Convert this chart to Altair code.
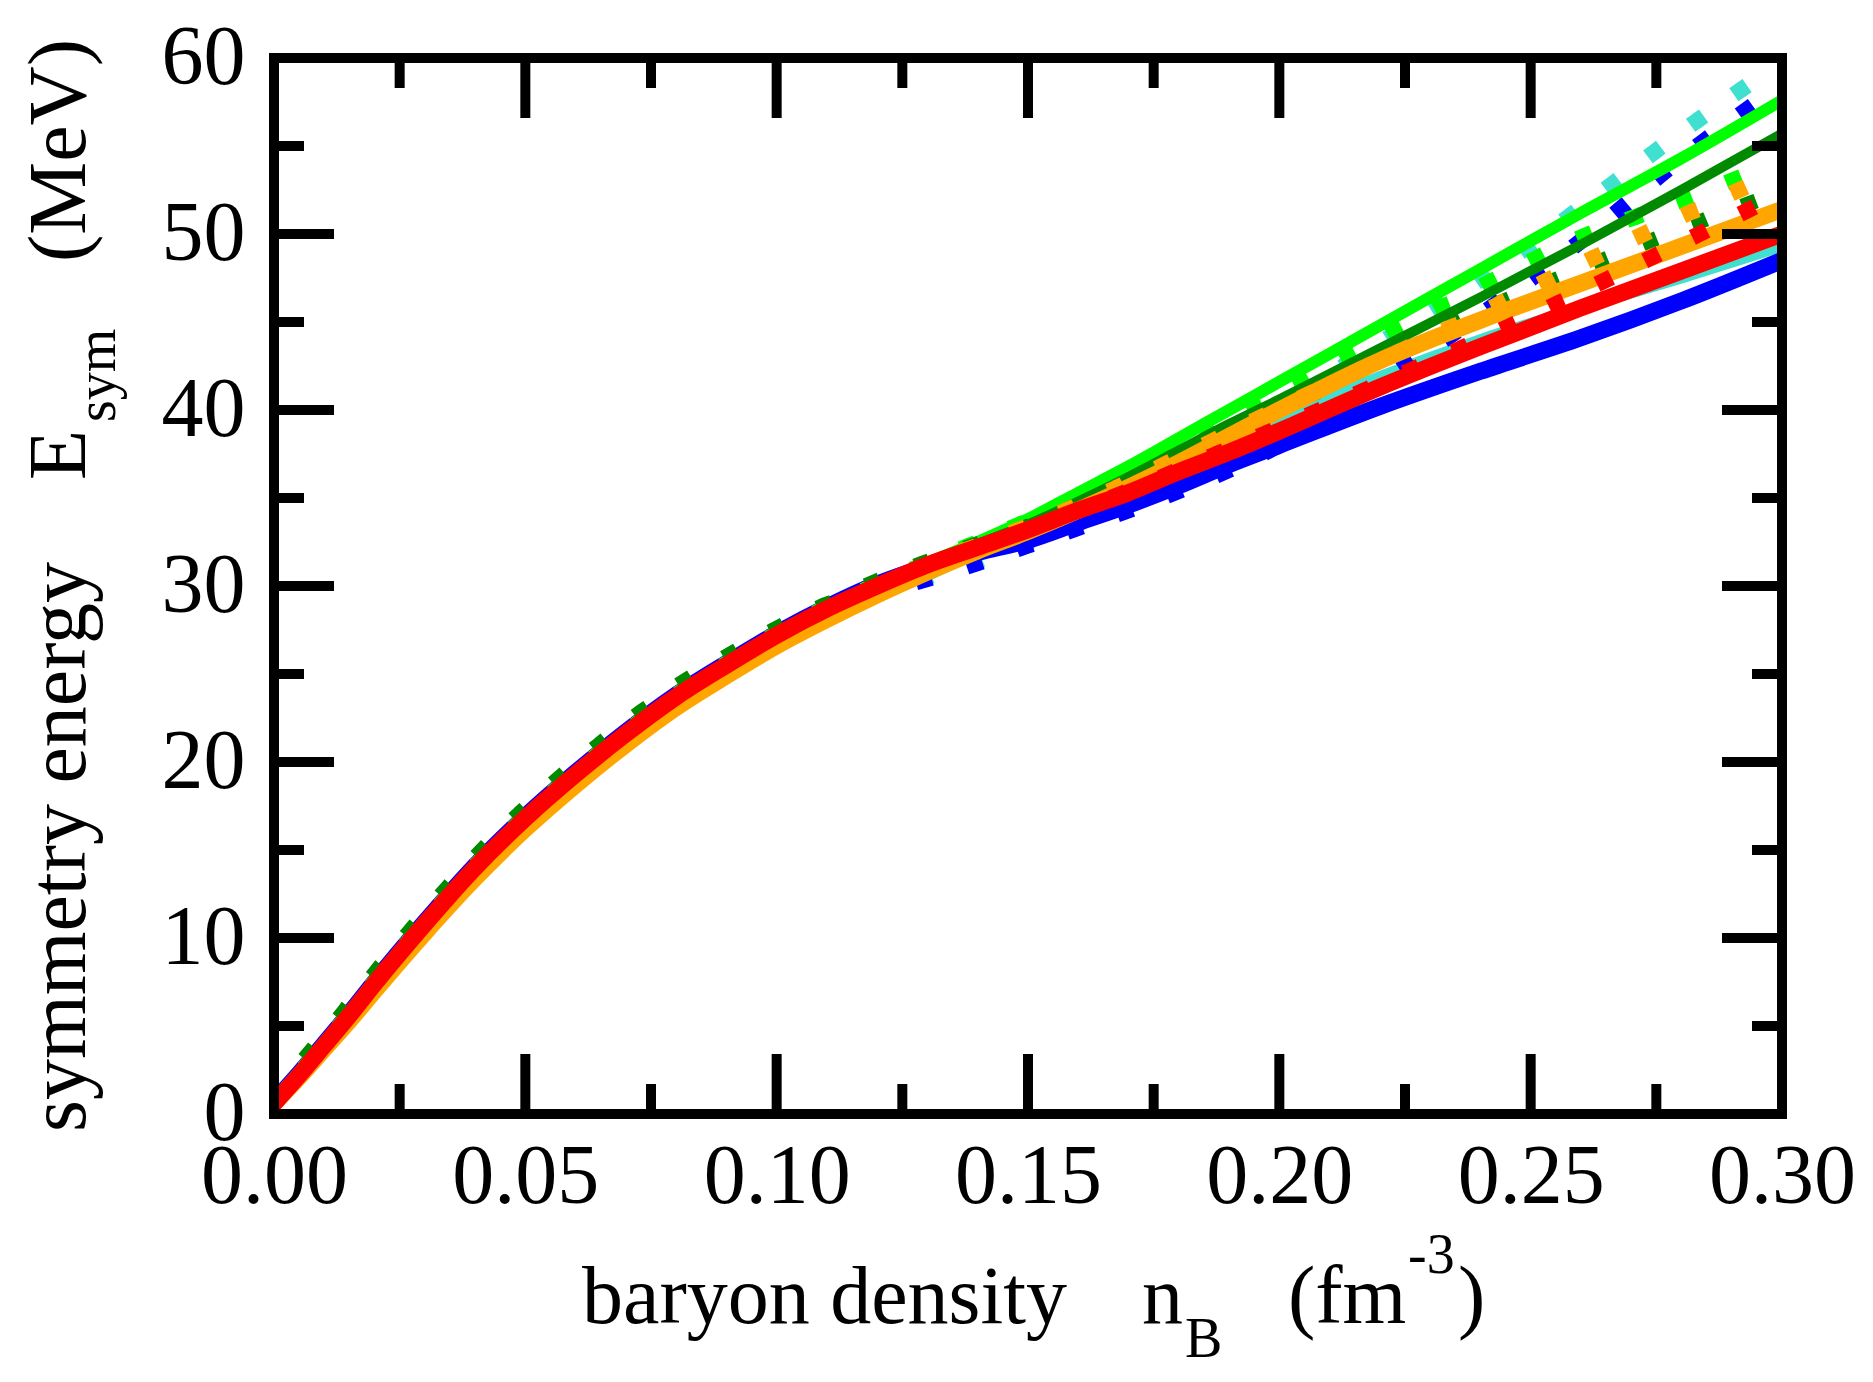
import altair as alt
import pandas as pd

# ---------------- data ----------------
n_B = [0.0, 0.005, 0.01, 0.015, 0.02, 0.03, 0.04, 0.05, 0.06, 0.07, 0.08, 0.09, 0.10, 0.11, 0.12,
       0.13, 0.14, 0.15, 0.16, 0.17, 0.18, 0.19, 0.20, 0.22, 0.24, 0.26, 0.28, 0.30]

turq_solid = [0.6, 2.1, 3.8, 5.4, 7.2, 10.6, 13.8, 16.6, 19.1, 21.4, 23.5, 25.3, 26.9, 28.2, 29.4,
              30.6, 31.9, 33.2, 34.4, 35.7, 37.0, 38.2, 39.5, 41.9, 44.0, 45.8, 47.5, 49.3]
turq_dot = [0.6, 2.1, 3.8, 5.5, 7.3, 10.7, 13.9, 16.7, 19.2, 21.5, 23.6, 25.4, 27.0, 28.4, 29.5,
            30.5, 31.4, 32.5, 33.6, 35.0, 36.6, 38.4, 40.2, 43.8, 47.4, 51.5, 55.8, 59.8]
blue_solid = [0.7, 2.3, 4.0, 5.7, 7.5, 10.9, 14.1, 16.9, 19.4, 21.7, 23.8, 25.6, 27.3, 28.8, 30.1,
              31.1, 31.9, 32.6, 33.6, 34.6, 35.7, 36.9, 38.0, 40.2, 42.2, 44.1, 46.2, 48.5]
blue_dot = [0.6, 2.2, 3.9, 5.6, 7.4, 10.8, 14.0, 16.8, 19.3, 21.6, 23.7, 25.5, 27.2, 28.6, 29.6,
            30.4, 31.3, 32.3, 33.3, 34.3, 35.4, 36.6, 38.0, 41.6, 45.4, 49.6, 54.3, 58.5]
lime_solid = [0.8, 2.4, 4.1, 5.8, 7.6, 11.0, 14.1, 16.9, 19.4, 21.7, 23.8, 25.6, 27.3, 28.8, 30.1,
              31.3, 32.5, 33.8, 35.3, 36.8, 38.4, 40.0, 41.6, 44.8, 48.0, 51.2, 54.3, 57.6]
lime_dot = [0.7, 2.3, 4.0, 5.7, 7.5, 10.9, 14.1, 16.9, 19.4, 21.7, 23.8, 25.6, 27.3, 28.8, 30.1,
            31.3, 32.5, 33.7, 35.0, 36.4, 37.9, 39.4, 40.9, 44.0, 47.0, 49.8, 51.9, 54.2]
dgreen_solid = [0.7, 2.3, 4.0, 5.7, 7.5, 10.9, 14.1, 16.9, 19.4, 21.7, 23.8, 25.6, 27.3, 28.8, 30.1,
                31.3, 32.4, 33.5, 34.8, 36.2, 37.7, 39.2, 40.6, 43.5, 46.4, 49.4, 52.5, 55.7]
dgreen_dot = [1.2, 2.8, 4.5, 6.2, 8.0, 11.4, 14.6, 17.4, 19.9, 22.2, 24.3, 26.0, 27.6, 29.0, 30.3,
              31.4, 32.4, 33.4, 34.5, 35.8, 37.2, 38.6, 40.0, 42.8, 45.6, 48.0, 50.3, 52.4]
orange_solid = [0.6, 2.1, 3.7, 5.3, 7.0, 10.3, 13.4, 16.2, 18.7, 21.0, 23.1, 24.9, 26.6, 28.1, 29.5,
                30.8, 32.0, 33.1, 34.3, 35.6, 37.0, 38.5, 40.0, 42.8, 45.1, 47.2, 49.3, 51.4]
orange_dot = [0.6, 2.2, 3.9, 5.6, 7.4, 10.8, 14.0, 16.8, 19.3, 21.6, 23.7, 25.5, 27.2, 28.7, 30.0,
              31.2, 32.3, 33.4, 34.6, 35.9, 37.3, 38.7, 40.1, 42.8, 45.5, 48.3, 51.0, 53.6]
red_solid = [0.6, 2.2, 3.9, 5.6, 7.4, 10.8, 14.0, 16.8, 19.3, 21.6, 23.7, 25.5, 27.2, 28.7, 30.0,
             31.2, 32.2, 33.2, 34.3, 35.3, 36.5, 37.6, 38.8, 41.3, 43.6, 45.8, 47.9, 50.0]
red_dot = [0.6, 2.2, 3.9, 5.6, 7.4, 10.8, 14.0, 16.8, 19.3, 21.6, 23.7, 25.5, 27.2, 28.7, 30.0,
           31.2, 32.2, 33.2, 34.3, 35.4, 36.6, 37.8, 39.0, 41.5, 44.0, 46.7, 49.5, 52.3]

x_major = [0.0, 0.05, 0.10, 0.15, 0.20, 0.25, 0.30]
x_minor = [0.025, 0.075, 0.125, 0.175, 0.225, 0.275]
y_major = [0, 10, 20, 30, 40, 50, 60]
y_minor = [5, 15, 25, 35, 45, 55]

# ---------------- layout ----------------
W, H = 1508, 1056
FONT = "Liberation Serif"
MAJ, MIN = 60, 30

xs = alt.Scale(domain=[0, 0.3], nice=False, zero=False)
ys = alt.Scale(domain=[0, 60], nice=False, zero=False)

xaxis = alt.Axis(values=x_major, format=".2f", title=None, grid=False, domain=False,
                 ticks=False, tickSize=0, labelFont=FONT, labelFontSize=84,
                 labelColor="black", labelPadding=22, labelFlush=False, labelOverlap=False)
yaxis = alt.Axis(values=y_major, format="d", title=None, grid=False, domain=False,
                 ticks=False, tickSize=0, labelFont=FONT, labelFontSize=84,
                 labelColor="black", labelPadding=29, labelFlush=False, labelOverlap=False)

def curve(vals, color, width, dotted=False):
    df = pd.DataFrame({"n": n_B, "E": vals})
    if dotted:
        mk = alt.Chart(df).mark_line(color=color, strokeWidth=width, strokeDash=[0.1, 53],
                                     strokeCap="square", interpolate="monotone", clip=True)
    else:
        mk = alt.Chart(df).mark_line(color=color, strokeWidth=width,
                                     interpolate="monotone", clip=True)
    return mk.encode(x=alt.X("n:Q", scale=xs, axis=xaxis),
                     y=alt.Y("E:Q", scale=ys, axis=yaxis))

TURQ, BLUE, LIME, DGREEN, ORANGE, RED = "#40e0d0", "#0000ff", "#00ff00", "#008a00", "#ffa500", "#ff0000"

lines = [
    curve(turq_solid, TURQ, 11),
    curve(turq_dot, TURQ, 16, True),
    curve(blue_solid, BLUE, 17),
    curve(blue_dot, BLUE, 16, True),
    curve(lime_solid, LIME, 12),
    curve(lime_dot, LIME, 16, True),
    curve(dgreen_solid, DGREEN, 10),
    curve(dgreen_dot, DGREEN, 15, True),
    curve(orange_solid, ORANGE, 17),
    curve(orange_dot, ORANGE, 16, True),
    curve(red_solid, RED, 17),
    curve(red_dot, RED, 16, True),
]

def xticks(vals, length):
    df = pd.DataFrame({"v": vals})
    base = alt.Chart(df).mark_rule(color="black", strokeWidth=10, strokeCap="butt")
    top = base.encode(x=alt.X("v:Q", scale=xs, axis=xaxis), y=alt.value(0), y2=alt.value(length))
    bot = base.encode(x=alt.X("v:Q", scale=xs, axis=xaxis), y=alt.value(H - length), y2=alt.value(H))
    return [top, bot]

def yticks(vals, length):
    df = pd.DataFrame({"v": vals})
    base = alt.Chart(df).mark_rule(color="black", strokeWidth=10, strokeCap="butt")
    left = base.encode(y=alt.Y("v:Q", scale=ys, axis=yaxis), x=alt.value(0), x2=alt.value(length))
    right = base.encode(y=alt.Y("v:Q", scale=ys, axis=yaxis), x=alt.value(W - length), x2=alt.value(W))
    return [left, right]

ticks = xticks(x_major, MAJ) + xticks(x_minor, MIN) + yticks(y_major, MAJ) + yticks(y_minor, MIN)

frame = alt.Chart(pd.DataFrame({"a": [0]})).mark_rect(
    filled=False, stroke="black", strokeWidth=10
).encode(x=alt.value(0), x2=alt.value(W), y=alt.value(0), y2=alt.value(H))

def label(text, px, py, size, angle=0):
    df = pd.DataFrame({"t": [text]})
    if angle:
        mk = alt.Chart(df).mark_text(font=FONT, fontSize=size, align="left",
                                     baseline="alphabetic", angle=angle, color="black")
    else:
        mk = alt.Chart(df).mark_text(font=FONT, fontSize=size, align="left",
                                     baseline="alphabetic", color="black")
    return mk.encode(x=alt.value(px), y=alt.value(py), text="t:N")

titles = [
    # x-axis title pieces
    label("baryon density", 308, 1265, 82),
    label("n", 868, 1265, 82),
    label("B", 911, 1299, 56),
    label("(fm", 1014, 1265, 82),
    label("-3", 1134, 1215, 56),
    label(")", 1184, 1265, 82),
    # y-axis title pieces (rotated)
    label("symmetry energy", -189, 1074, 82, 270),
    label("E", -189, 422, 82, 270),
    label("sym", -159, 364, 56, 270),
    label("(MeV)", -189, 204, 82, 270),
]

chart = alt.layer(*lines, *ticks, frame, *titles).properties(
    width=W, height=H,
    padding={"left": 266, "top": 50, "right": 82, "bottom": 255},
    autosize=alt.AutoSizeParams(type="none"),
    background="white",
).configure_view(strokeWidth=0)

chart.save("out.html", embed_options={"renderer": "svg", "actions": False})
